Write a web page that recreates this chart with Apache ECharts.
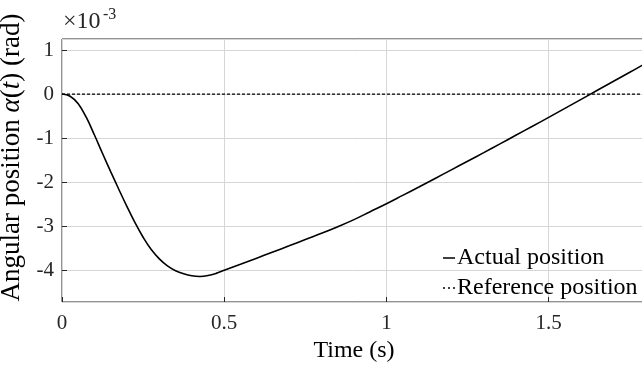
<!DOCTYPE html>
<html>
<head>
<meta charset="utf-8">
<script src="https://cdn.jsdelivr.net/npm/echarts@6/dist/echarts.min.js"></script>
<style>
  html, body { margin: 0; padding: 0; background: #fff; }
  #chart { width: 642px; height: 369px; }
</style>
</head>
<body>
<div id="chart"></div>
<script>
// time axis (s)
const timeValues = [0, 0.025, 0.05, 0.075, 0.1, 0.125, 0.15, 0.175, 0.2, 0.225, 0.25, 0.275, 0.3, 0.325,
  0.35, 0.375, 0.4, 0.425, 0.45, 0.475, 0.5, 0.55, 0.6, 0.65, 0.7, 0.75, 0.8, 0.85, 0.9, 0.95, 1.0,
  1.05, 1.1, 1.15, 1.2, 1.25, 1.3, 1.35, 1.4, 1.45, 1.5, 1.55, 1.6, 1.65, 1.7, 1.75, 1.8];
// angular position, x10^-3 rad
const actualValues = [0, -0.05, -0.22, -0.53, -0.93, -1.35, -1.76, -2.16, -2.55, -2.92, -3.25, -3.53, -3.74, -3.90,
  -4.01, -4.08, -4.125, -4.14, -4.12, -4.07, -4.0, -3.865, -3.725, -3.585, -3.445, -3.30, -3.16, -3.01, -2.85, -2.67, -2.49,
  -2.30, -2.11, -1.915, -1.72, -1.525, -1.33, -1.13, -0.93, -0.73, -0.53, -0.325, -0.12, 0.085, 0.29, 0.495, 0.70];
const refTime = [0, 1.8];
const refValues = [0, 0];
const xTicks = [0, 0.5, 1, 1.5];
const yTicks = [-4, -3, -2, -1, 0, 1];

const serif = '"Liberation Serif", "Times New Roman", serif';
const axisColor = '#262626';

const chart = echarts.init(document.getElementById('chart'));

const option = {
  animation: false,
  grid: {
    left: 62, top: 39, right: -4, bottom: 67,
    outerBoundsMode: 'none',
    containLabel: false,
    show: true, borderColor: axisColor, borderWidth: 1
  },
  graphic: [
    {
      type: 'text', left: 63, top: 10,
      style: { text: '×10', font: '24px ' + serif, fill: axisColor }
    },
    {
      type: 'text', left: 103, top: 7,
      style: { text: '-3', font: '16px ' + serif, fill: axisColor }
    }
  ],
  legend: {
    left: 438, top: 241,
    orient: 'vertical',
    itemWidth: 12, itemHeight: 1.5, itemGap: 6,
    textStyle: { fontFamily: serif, fontSize: 24, color: '#000', padding: [0, 0, 0, -3] },
    data: [
      { name: 'Actual position', icon: 'path://M0,0h12v1.5h-12z' },
      { name: 'Reference position', icon: 'path://M0,0h2v1.5h-2zM5,0h2v1.5h-2zM10,0h2v1.5h-2z' }
    ]
  },
  xAxis: {
    type: 'value',
    min: 0, max: 1.8, interval: 0.5,
    name: 'Time (s)',
    nameLocation: 'middle', nameGap: 35,
    nameTextStyle: { fontFamily: serif, fontSize: 24, color: '#000' },
    axisLine: { show: false, onZero: false },
    axisTick: { show: true, inside: true, length: 5, lineStyle: { color: axisColor } },
    axisLabel: {
      fontFamily: serif, fontSize: 21, color: axisColor, margin: 11,
      showMaxLabel: false,
      formatter: v => (xTicks.indexOf(v) >= 0 ? String(v) : '')
    },
    splitLine: { show: true, lineStyle: { color: '#d6d6d6', width: 1 } }
  },
  yAxis: {
    type: 'value',
    min: -4.72, max: 1.25, splitNumber: 6,
    name: '{n|Angular position }{i|α}{n|(}{i|t}{n|) (rad)}',
    nameLocation: 'middle', nameGap: 29,
    nameTextStyle: {
      fontFamily: serif, fontSize: 27, color: '#000',
      padding: [0, 0, 0, 26],
      rich: {
        n: { fontFamily: serif, fontSize: 27, color: '#000' },
        i: { fontFamily: serif, fontSize: 27, color: '#000', fontStyle: 'italic' }
      }
    },
    axisLine: { show: false, onZero: false },
    axisTick: { show: true, inside: true, length: 5, lineStyle: { color: axisColor } },
    axisLabel: {
      fontFamily: serif, fontSize: 21, color: axisColor, margin: 8,
      showMinLabel: false, showMaxLabel: false,
      formatter: v => (yTicks.indexOf(v) >= 0 ? String(v) : '')
    },
    splitLine: { show: true, lineStyle: { color: '#d6d6d6', width: 1 } }
  },
  series: [
    {
      name: 'Actual position',
      type: 'line',
      data: timeValues.map((t, i) => [t, actualValues[i]]),
      smooth: 0.4,
      showSymbol: false,
      symbol: 'none',
      color: '#000',
      lineStyle: { color: '#000', width: 1.6 },
      z: 3
    },
    {
      name: 'Reference position',
      type: 'line',
      data: refTime.map((t, i) => [t, refValues[i]]),
      showSymbol: false,
      symbol: 'none',
      color: '#000',
      lineStyle: { color: '#000', width: 1.3, type: [3, 2] },
      z: 2
    }
  ]
};

chart.setOption(option);
</script>
</body>
</html>
